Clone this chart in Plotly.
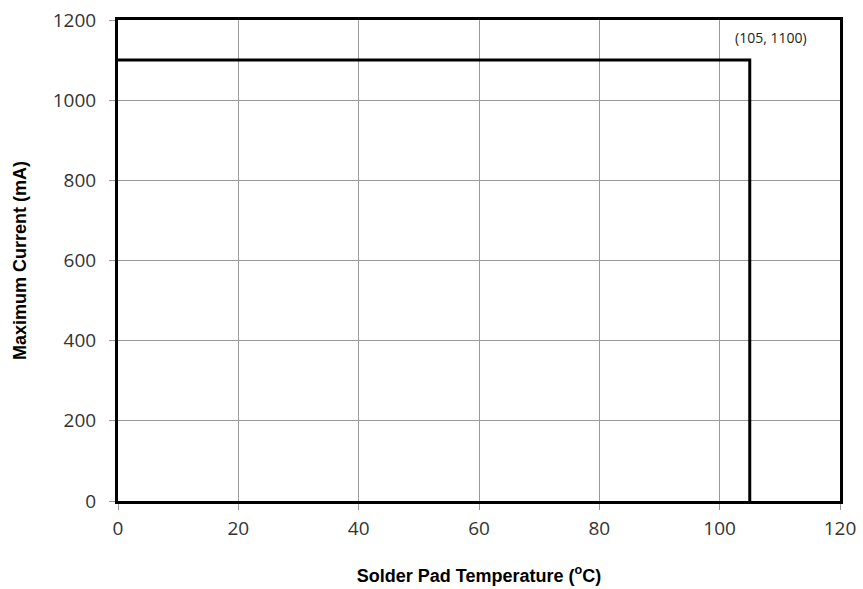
import plotly.graph_objects as go

# Derating curve: maximum current vs solder pad temperature
temperature_c = [0, 105, 105]
max_current_ma = [1100, 1100, 0]
corner_point = (105, 1100)

x_ticks = [0, 20, 40, 60, 80, 100, 120]
y_ticks = [0, 200, 400, 600, 800, 1000, 1200]

tick_font = dict(family="Open Sans, DejaVu Sans, sans-serif", size=19, color="#333333")
title_font = dict(family="Liberation Sans, Arial, sans-serif", size=18, color="#000000")

fig = go.Figure()
fig.add_trace(go.Scatter(
    x=temperature_c,
    y=max_current_ma,
    mode="lines",
    line=dict(color="#000000", width=3),
    showlegend=False,
    hoverinfo="skip",
))

fig.add_annotation(
    x=corner_point[0], y=corner_point[1],
    text=f"({corner_point[0]}, {corner_point[1]})",
    showarrow=False,
    xshift=21, yshift=23,
    font=dict(family="Open Sans, DejaVu Sans, sans-serif", size=14, color="#222222"),
)

axis_common = dict(
    showgrid=True,
    gridcolor="#9a9a9a",
    gridwidth=1,
    showline=True,
    linecolor="#000000",
    linewidth=3,
    mirror=True,
    ticks="outside",
    ticklen=6,
    tickcolor="#9a9a9a",
    tickwidth=1,
    zeroline=False,
    tickfont=tick_font,
    automargin=False,
)

fig.update_xaxes(
    range=[0, 120],
    tickvals=x_ticks,
    ticktext=[str(v) for v in x_ticks],
    ticklabelstandoff=2,
    title=dict(text="<b>Solder Pad Temperature (<sup>o</sup>C)</b>", font=title_font, standoff=30),
    **axis_common,
)
fig.update_yaxes(
    range=[0, 1200],
    tickvals=y_ticks,
    ticktext=[str(v) for v in y_ticks],
    ticklabelstandoff=9,
    title=dict(text="<b>Maximum Current (mA)</b>", font=title_font, standoff=22),
    **axis_common,
)

fig.update_layout(
    width=863,
    height=589,
    margin=dict(l=118, r=23, t=20, b=88),
    plot_bgcolor="#ffffff",
    paper_bgcolor="#ffffff",
)

fig.write_html("out.html")
